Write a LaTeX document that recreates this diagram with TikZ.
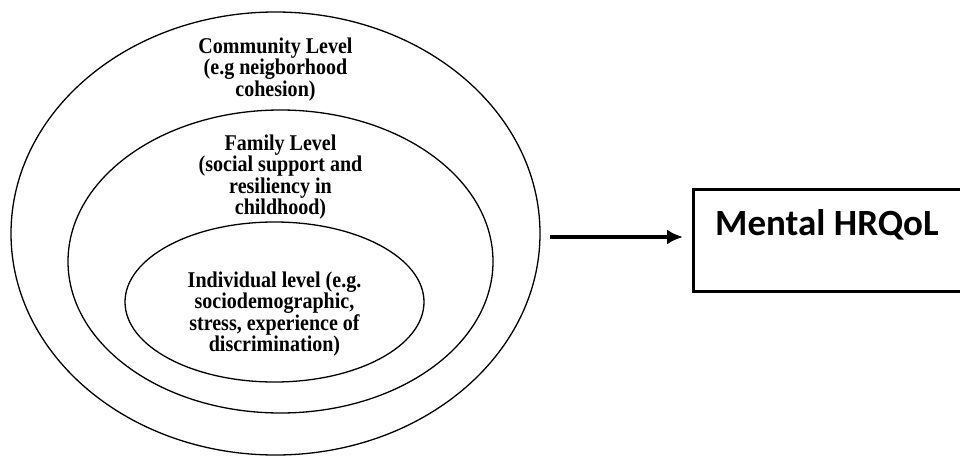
\documentclass[tikz,border=0pt]{standalone}
\usepackage{fontspec}
\setmainfont{Liberation Serif}
\newfontfamily\lvlfont[FakeStretch=0.89]{Liberation Serif}
\newfontfamily\boxfont{Carlito}
\usetikzlibrary{arrows.meta,positioning,shapes.geometric}
\tikzset{>=Latex,ring/.style={draw,ellipse,line width=1.3pt,inner sep=0pt},lvl/.style={font=\lvlfont\bfseries\fontsize{22.5}{21.5}\selectfont,align=center,inner sep=0pt},arr/.style={-{Latex[length=16pt,width=15pt]},line width=4pt,shorten <=9pt,shorten >=9pt},outbox/.style={draw,line width=2.7pt,anchor=north west,minimum width=290pt,minimum height=102pt}}
\begin{document}
\begin{tikzpicture}[x=1pt,y=-1pt]
\useasboundingbox (0,0) rectangle (960,457);
\node[ring,minimum width=529pt,minimum height=443pt] (outer) at (275.5,233.5) {};
\node[ring,minimum width=425pt,minimum height=303pt] (middle) at (280.5,261.5) {};
\node[ring,minimum width=299pt,minimum height=160pt] (inner) at (274.5,302) {};
\node[lvl,below=26pt of outer.north] (community) {Community Level\\(e.g neigborhood\\cohesion)};
\node[lvl,below=25pt of middle.north] (family) {Family Level\\(social support and\\resiliency in\\childhood)};
\node[lvl,below=50pt of inner.north] (individual) {Individual level (e.g.\\sociodemographic,\\stress, experience of\\discrimination)};
\node[outbox] (outcome) at (692,188) {};
\node[anchor=base west,inner sep=0pt,font=\boxfont\bfseries\fontsize{37}{40}\selectfont] (outlabel) at ([xshift=23pt,yshift=-47pt]outcome.north west) {Mental HRQoL};
\coordinate (src) at ([yshift=-3.5pt]outer.east);
\draw[arr] (src) -- (src -| outcome.west);
\end{tikzpicture}
\end{document}
